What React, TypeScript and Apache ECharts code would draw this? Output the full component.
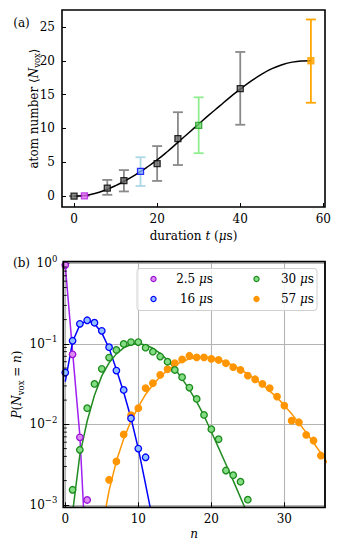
import React, { useEffect, useRef } from 'react';
import * as echarts from 'echarts';

const FONT = 'DejaVu Serif';

// ---------- Panel (a) data ----------
const tA = [0, 2.5, 8, 12, 16, 20, 25, 30, 40, 57];
const yA = [0, 0.05, 1.2, 2.3, 3.65, 4.8, 8.5, 10.45, 15.9, 20.0];
const errLoA = [0, 0.05, 0.2, 0.7, 1.5, 2.25, 4.6, 6.35, 10.55, 13.8];
const errHiA = [0, 0.05, 2.4, 3.85, 5.75, 7.4, 12.4, 14.6, 21.3, 26.1];
const fitT = [0, 2.5, 5, 7.5, 10, 12.5, 15, 17.5, 20, 22.5, 25, 27.5, 30, 32.5, 35, 37.5, 40, 42.5, 45, 47.5, 50, 52.5, 55, 57];
const fitY = [0, 0.1, 0.4, 0.9, 1.55, 2.35, 3.25, 4.25, 5.35, 6.6, 7.95, 9.3, 10.65, 12.0, 13.3, 14.6, 15.8, 16.95, 17.95, 18.8, 19.4, 19.8, 19.97, 20.0];
const xTicksA = [0, 20, 40, 60];
const yTicksA = [0, 5, 10, 15, 20, 25];

// styles for panel (a)
const sqFill = ['#6e6e6e', '#e070f0', '#6e6e6e', '#6e6e6e', '#86b6ff', '#6e6e6e', '#6e6e6e', '#70d870', '#6e6e6e', '#ffa500'];
const sqEdge = ['#000000', '#b020e0', '#000000', '#000000', '#0000ff', '#000000', '#000000', '#1a9a1a', '#000000', '#ffa500'];
const errColor = ['#8a8a8a', '#d070e0', '#8a8a8a', '#8a8a8a', '#add8e6', '#8a8a8a', '#8a8a8a', '#90ee90', '#8a8a8a', '#ffa500'];

// ---------- Panel (b) data ----------
const nPurple = [0, 1, 2, 3];
const pPurple = [0.95, 0.074, 0.0069, 0.00115];
const nPurpleFit = [0, 1, 2, 3];
const pPurpleFit = [0.95, 0.08, 0.0072, 0.00012];

const nBlue = [0, 1, 2, 3, 4, 5, 6, 7, 8, 9, 10, 11];
const pBlue = [0.044, 0.109, 0.177, 0.196, 0.183, 0.145, 0.091, 0.0465, 0.0268, 0.0119, 0.005, 0.0039];
const nBlueFit = [0, 1, 2, 3, 4, 5, 6, 7, 8, 9, 10, 11, 12];
const pBlueFit = [0.034, 0.106, 0.172, 0.195, 0.178, 0.137, 0.088, 0.048, 0.025, 0.012, 0.005, 0.0018, 0.00063];

const nGreen = [1, 2, 3, 4, 5, 6, 7, 8, 9, 10, 11, 12, 13, 14, 15, 16, 17, 18, 19, 20, 21, 22, 23, 24, 25];
const pGreen = [0.00154, 0.00483, 0.0159, 0.0318, 0.0489, 0.0675, 0.084, 0.0998, 0.105, 0.105, 0.0897, 0.08, 0.0695, 0.06, 0.0474, 0.0385, 0.0286, 0.0207, 0.0131, 0.0087, 0.00654, 0.00267, 0.00234, 0.00194, 0.00116];
const nGreenFit = [1, 2, 3, 4, 5, 6, 7, 8, 9, 10, 11, 12, 13, 14, 15, 16, 17, 18, 19, 20, 21, 22, 23, 24, 25];
const pGreenFit = [0.0008, 0.0042, 0.011, 0.023, 0.04, 0.058, 0.075, 0.089, 0.098, 0.101, 0.097, 0.088, 0.076, 0.063, 0.049, 0.037, 0.027, 0.019, 0.0128, 0.0081, 0.0051, 0.0032, 0.002, 0.00123, 0.00076];

const nOrange = [6, 7, 8, 9, 10, 11, 12, 13, 14, 15, 16, 17, 18, 19, 20, 21, 22, 23, 24, 25, 26, 27, 28, 29, 30, 31, 32, 33, 34, 35];
const pOrange = [0.00205, 0.00346, 0.0075, 0.013, 0.0159, 0.0281, 0.0324, 0.0411, 0.0484, 0.0574, 0.064, 0.071, 0.068, 0.068, 0.065, 0.063, 0.0574, 0.0513, 0.0474, 0.0403, 0.0363, 0.0318, 0.0281, 0.0221, 0.0171, 0.0111, 0.0106, 0.0074, 0.0063, 0.0041];
const nOrangeFit = [5, 6, 7, 8, 9, 10, 11, 12, 13, 14, 15, 16, 17, 18, 19, 20, 21, 22, 23, 24, 25, 26, 27, 28, 29, 30, 31, 32, 33, 34, 35, 36];
const pOrangeFit = [0.0005, 0.0015, 0.0035, 0.0066, 0.011, 0.0165, 0.0235, 0.031, 0.039, 0.047, 0.054, 0.06, 0.065, 0.0675, 0.068, 0.067, 0.064, 0.059, 0.054, 0.048, 0.042, 0.0365, 0.031, 0.026, 0.0215, 0.0172, 0.0135, 0.0104, 0.0079, 0.0059, 0.0044, 0.0032];

const legendLabels = ['2.5', '16', '30', '57'];
const xTicksB = [0, 10, 20, 30];
const yDecadesB = [-3, -2, -1, 0];
const minorTicksB = [0.002, 0.003, 0.004, 0.005, 0.006, 0.007, 0.008, 0.009, 0.02, 0.03, 0.04, 0.05, 0.06, 0.07, 0.08, 0.09, 0.2, 0.3, 0.4, 0.5, 0.6, 0.7, 0.8, 0.9];

// colours panel (b)
const colPurple = { edge: '#9a10d8', fill: '#dc8cf0', line: '#a020f0' };
const colBlue = { edge: '#0000ff', fill: '#90c0ff', line: '#0000ff' };
const colGreen = { edge: '#1a8a1a', fill: '#84dc84', line: '#228b22' };
const colOrange = { edge: '#ff9500', fill: '#ff9500', line: '#ff9500' };

const XMIN_A = -2.9, XMAX_A = 60.4, YMIN_A = -1.6, YMAX_A = 27.5;
const XMIN_B = -0.27, XMAX_B = 35.57, YMIN_B = 0.000933, YMAX_B = 1.047;

const zip = (a: number[], b: number[]) => a.map((v, i) => [v, b[i]]);

const richBase: any = {
  r: { fontFamily: FONT, fontSize: 12, lineHeight: 16, fill: '#000' },
  i: { fontFamily: FONT, fontSize: 12, fontStyle: 'italic', lineHeight: 16, fill: '#000' },
  sub: { fontFamily: FONT, fontSize: 8.5, lineHeight: 8, verticalAlign: 'bottom', fill: '#000' },
};

function txt(x: number, y: number, text: string, rotation = 0, align = 'center'): any {
  return {
    type: 'text', x, y, rotation, z: 50,
    style: {
      text, rich: richBase, fill: '#000', font: `12px "${FONT}"`,
      textAlign: align, align, textVerticalAlign: 'middle', verticalAlign: 'middle',
    },
  };
}

const tickFont = { fontFamily: FONT, fontSize: 12, color: '#000' };

export default function App() {
  const ref = useRef<HTMLDivElement>(null);
  useEffect(() => {
    if (!ref.current) return;
    const chart = echarts.init(ref.current, undefined, { renderer: 'svg' });

    const scatterB = (n: number[], p: number[], c: any) => ({
      type: 'scatter', xAxisIndex: 3, yAxisIndex: 3, data: zip(n, p), symbol: 'circle', symbolSize: 6.5,
      itemStyle: { color: c.fill, borderColor: c.edge, borderWidth: 1.3, opacity: 1 }, z: 4,
    });
    const lineB = (n: number[], p: number[], c: any) => ({
      type: 'line', xAxisIndex: 3, yAxisIndex: 3, data: zip(n, p), showSymbol: false, symbol: 'none',
      lineStyle: { color: c.line, width: 1.5 }, clip: true, z: 3,
    });

    const legendCols = [colPurple, colBlue, colGreen, colOrange];
    const legendPos = [[153.5, 279, 213], [153.5, 299, 213], [256.5, 279, 314], [256.5, 299, 314]];
    const legendEls: any[] = [
      { type: 'rect', shape: { x: 137, y: 268.5, width: 180, height: 42, r: 3 },
        style: { fill: 'rgba(255,255,255,0.8)', stroke: '#d0d0d0', lineWidth: 1 }, z: 40 },
    ];
    legendLabels.forEach((lab, i) => {
      const [mx, my, tx] = legendPos[i];
      const c = legendCols[i];
      legendEls.push({ type: 'circle', shape: { cx: mx, cy: my, r: 2.6 }, style: { fill: c.fill, stroke: c.edge, lineWidth: 1.2 }, z: 45 });
      legendEls.push(txt(tx, my, `{r|${lab} }{i|μ}{r|s}`, 0, 'right'));
    });

    const option: any = {
      animation: false,
      grid: [
        { left: 62, top: 10, width: 263, height: 197, show: true, borderColor: '#000', borderWidth: 1.6, backgroundColor: 'transparent', z: 10 },
        { left: 74.05, top: 10, width: 249.3, height: 197 },
        { left: 62, top: 26.9, width: 263, height: 169.3 },
        { left: 63.3, top: 261.7, width: 261.7, height: 245.6, show: true, borderColor: '#000', borderWidth: 1.8, backgroundColor: 'transparent', z: 10 },
        { left: 65.27, top: 261.7, width: 219.0, height: 245.6 },
        { left: 63.3, top: 263.3, width: 261.7, height: 241.6 },
      ],
      xAxis: [
        { gridIndex: 0, type: 'value', min: XMIN_A, max: XMAX_A, show: false },
        { gridIndex: 1, type: 'value', min: xTicksA[0], max: xTicksA[xTicksA.length - 1], interval: 20,
          axisLine: { show: false }, splitLine: { show: false },
          axisTick: { show: true, inside: true, length: 4, lineStyle: { color: '#000', width: 1 } },
          axisLabel: { ...tickFont, margin: 6 } },
        { gridIndex: 2, type: 'value', min: 0, max: 1, show: false },
        { gridIndex: 3, type: 'value', min: XMIN_B, max: XMAX_B, show: false },
        { gridIndex: 4, type: 'value', min: xTicksB[0], max: xTicksB[xTicksB.length - 1], interval: 10,
          axisLine: { show: false },
          splitLine: { show: true, lineStyle: { color: '#b4b4b4', width: 1.1 } },
          axisTick: { show: true, inside: true, length: 5, lineStyle: { color: '#000', width: 1 } },
          axisLabel: { ...tickFont, margin: 6 } },
        { gridIndex: 5, type: 'value', min: 0, max: 1, show: false },
      ],
      yAxis: [
        { gridIndex: 0, type: 'value', min: YMIN_A, max: YMAX_A, show: false },
        { gridIndex: 1, type: 'value', min: 0, max: 1, show: false },
        { gridIndex: 2, type: 'value', min: yTicksA[0], max: yTicksA[yTicksA.length - 1], interval: 5,
          axisLine: { show: false }, splitLine: { show: false },
          axisTick: { show: true, inside: true, length: 4, lineStyle: { color: '#000', width: 1 } },
          axisLabel: { ...tickFont, margin: 7 } },
        { gridIndex: 3, type: 'log', logBase: 10, min: YMIN_B, max: YMAX_B, show: false },
        { gridIndex: 4, type: 'value', min: 0, max: 1, show: false },
        { gridIndex: 5, type: 'value', min: yDecadesB[0], max: yDecadesB[yDecadesB.length - 1], interval: 1,
          axisLine: { show: false },
          splitLine: { show: true, lineStyle: { color: '#b4b4b4', width: 1.1 } },
          axisTick: { show: true, inside: true, length: 6, lineStyle: { color: '#000', width: 1 } },
          axisLabel: {
            ...tickFont, margin: 6,
            formatter: (v: number) => {
              const e = Math.round(v);
              return `{b|10}{s|${e === 0 ? '0' : '−' + Math.abs(e)}}`;
            },
            rich: {
              b: { fontFamily: FONT, fontSize: 12, lineHeight: 18, color: '#000' },
              s: { fontFamily: FONT, fontSize: 8.5, lineHeight: 9, verticalAlign: 'top', color: '#000' },
            },
          } },
      ],
      series: [
        // panel (a): error bars
        {
          type: 'custom', xAxisIndex: 0, yAxisIndex: 0, z: 1,
          data: tA.map((t, i) => [t, errLoA[i], errHiA[i]]),
          renderItem: (params: any, api: any) => {
            const x = api.value(0);
            const lo = api.coord([x, api.value(1)]);
            const hi = api.coord([x, api.value(2)]);
            const c = errColor[params.dataIndex];
            const cap = 5;
            const st = { stroke: c, lineWidth: 1.8 };
            return {
              type: 'group', children: [
                { type: 'line', shape: { x1: lo[0], y1: lo[1], x2: hi[0], y2: hi[1] }, style: st },
                { type: 'line', shape: { x1: lo[0] - cap, y1: lo[1], x2: lo[0] + cap, y2: lo[1] }, style: st },
                { type: 'line', shape: { x1: hi[0] - cap, y1: hi[1], x2: hi[0] + cap, y2: hi[1] }, style: st },
              ],
            };
          },
        },
        // panel (a): fit curve
        {
          type: 'line', xAxisIndex: 0, yAxisIndex: 0, data: zip(fitT, fitY), smooth: true, showSymbol: false, symbol: 'none',
          lineStyle: { color: '#000', width: 1.5 }, z: 2,
        },
        // panel (a): squares
        {
          type: 'scatter', xAxisIndex: 0, yAxisIndex: 0, symbol: 'rect', symbolSize: 6, z: 3,
          data: tA.map((t, i) => ({ value: [t, yA[i]], itemStyle: { color: sqFill[i], borderColor: sqEdge[i], borderWidth: 1.3 } })),
        },
        // panel (b): fits
        lineB(nPurpleFit, pPurpleFit, colPurple),
        lineB(nBlueFit, pBlueFit, colBlue),
        lineB(nGreenFit, pGreenFit, colGreen),
        lineB(nOrangeFit, pOrangeFit, colOrange),
        // panel (b): data
        scatterB(nOrange, pOrange, colOrange),
        scatterB(nGreen, pGreen, colGreen),
        scatterB(nBlue, pBlue, colBlue),
        scatterB(nPurple, pPurple, colPurple),
        // panel (b): minor ticks on log axis
        {
          type: 'custom', xAxisIndex: 3, yAxisIndex: 3, z: 5,
          data: minorTicksB.map((v) => [XMIN_B, v]),
          renderItem: (params: any, api: any) => {
            const p = api.coord([api.value(0), api.value(1)]);
            return { type: 'line', shape: { x1: p[0], y1: p[1], x2: p[0] + 3.5, y2: p[1] }, style: { stroke: '#000', lineWidth: 0.9 } };
          },
        },
      ],
      graphic: [
        txt(21.5, 23, '{r|(a)}'),
        txt(21.5, 263, '{r|(b)}'),
        txt(193.5, 236, '{r|duration }{i|t}{r| (}{i|μ}{r|s)}'),
        txt(33.5, 108.5, '{r|atom number ⟨}{i|N}{sub|vox}{r|⟩}', Math.PI / 2),
        txt(17, 384.5, '{i|P}{r|(}{i|N}{sub|vox}{r| = }{i|n}{r|)}', Math.PI / 2),
        txt(194, 534, '{i|n}'),
        ...legendEls,
      ],
    };
    chart.setOption(option);
    return () => chart.dispose();
  }, []);
  return <div ref={ref} style={{ position: 'fixed', left: 0, top: 0, width: 340, height: 553, background: '#fff' }} />;
}
